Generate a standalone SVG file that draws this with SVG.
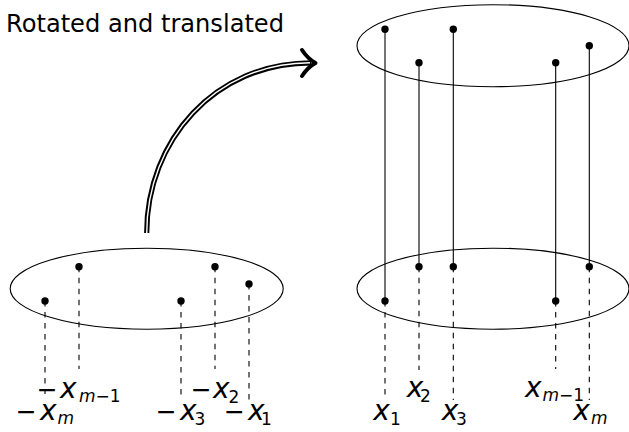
<svg xmlns="http://www.w3.org/2000/svg" width="629" height="432" viewBox="0 0 629 432">
  <style>
    .ell { fill: none; stroke: #000; stroke-width: 1.1; }
    .dot { fill: #000; }
    .solid { stroke: #000; stroke-width: 1.1; fill: none; }
    .dash { stroke: #000; stroke-width: 1.1; fill: none; stroke-dasharray: 5.5 5.5; }
    .title { font-family: "DejaVu Sans", sans-serif; font-size: 24.5px; fill: #000; }
    .math { font-family: "DejaVu Sans", sans-serif; font-size: 25px; fill: #000; }
    .it { font-style: italic; font-size: 28px; }
    .sub { font-size: 17px; }
    .subit { font-style: italic; font-size: 17px; }
  </style>
  <rect width="629" height="432" fill="#fff"/>

  <g id="title">
    <text class="title" x="6" y="32" textLength="278" lengthAdjust="spacingAndGlyphs">Rotated and translated</text>
  </g>

  <g id="connectors">
    <g id="arrow">
      <path d="M146.7,233 C146.7,140 215,63 311,62.8" fill="none" stroke="#000" stroke-width="5.2"/>
      <path d="M146.7,234 C146.7,140 215,63 310,62.8" fill="none" stroke="#fff" stroke-width="1.4"/>
      <path d="M302,50 Q308,59 315.5,63 Q308,67 302,76" fill="none" stroke="#000" stroke-width="4" stroke-linecap="round" stroke-linejoin="round"/>
    </g>
    <g id="solid-lines">
      <line class="solid" x1="385" y1="29.3" x2="385" y2="301"/>
      <line class="solid" x1="419" y1="62.7" x2="419" y2="266.7"/>
      <line class="solid" x1="453.3" y1="29.3" x2="453.3" y2="266.7"/>
      <line class="solid" x1="555.7" y1="62.7" x2="555.7" y2="301"/>
      <line class="solid" x1="589.3" y1="45.7" x2="589.3" y2="266.7"/>
    </g>
    <g id="dashed-left">
      <line class="dash" x1="45" y1="301" x2="45" y2="394"/>
      <line class="dash" x1="79" y1="266.7" x2="79" y2="369"/>
      <line class="dash" x1="181" y1="301" x2="181" y2="400"/>
      <line class="dash" x1="215" y1="266.7" x2="215" y2="369"/>
      <line class="dash" x1="249" y1="284" x2="249" y2="400"/>
    </g>
    <g id="dashed-right">
      <line class="dash" x1="385" y1="301" x2="385" y2="400"/>
      <line class="dash" x1="419" y1="266.7" x2="419" y2="370"/>
      <line class="dash" x1="453.3" y1="266.7" x2="453.3" y2="400"/>
      <line class="dash" x1="555.7" y1="301" x2="555.7" y2="369"/>
      <line class="dash" x1="589.3" y1="266.7" x2="589.3" y2="400"/>
    </g>
  </g>

  <g id="left-set">
    <ellipse class="ell" cx="146.7" cy="288.7" rx="136.5" ry="40.5"/>
    <circle class="dot" cx="45" cy="301" r="3.7"/>
    <circle class="dot" cx="79" cy="266.7" r="3.7"/>
    <circle class="dot" cx="181" cy="301" r="3.7"/>
    <circle class="dot" cx="215" cy="266.7" r="3.7"/>
    <circle class="dot" cx="249" cy="284" r="3.7"/>
  </g>

  <g id="right-bottom-set">
    <ellipse class="ell" cx="493" cy="288.7" rx="136" ry="40.5"/>
    <circle class="dot" cx="385" cy="301" r="3.7"/>
    <circle class="dot" cx="419" cy="266.7" r="3.7"/>
    <circle class="dot" cx="453.3" cy="266.7" r="3.7"/>
    <circle class="dot" cx="555.7" cy="301" r="3.7"/>
    <circle class="dot" cx="589.3" cy="266.7" r="3.7"/>
  </g>

  <g id="right-top-set">
    <ellipse class="ell" cx="493" cy="45.7" rx="136" ry="41"/>
    <circle class="dot" cx="385" cy="29.3" r="3.7"/>
    <circle class="dot" cx="419" cy="62.7" r="3.7"/>
    <circle class="dot" cx="453.3" cy="29.3" r="3.7"/>
    <circle class="dot" cx="555.7" cy="62.7" r="3.7"/>
    <circle class="dot" cx="589.3" cy="45.7" r="3.7"/>
  </g>

  <g id="left-labels">
    <text class="math" y="398"><tspan x="36.7">−</tspan><tspan class="it" x="60">x</tspan><tspan class="subit" x="79" dy="4">m</tspan><tspan class="sub">−1</tspan></text>
    <text class="math" y="398"><tspan x="190.7">−</tspan><tspan class="it" x="213">x</tspan><tspan class="sub" x="228.4" dy="5">2</tspan></text>
    <text class="math" y="420"><tspan x="15.7">−</tspan><tspan class="it" x="40">x</tspan><tspan class="subit" x="57.5" dy="4">m</tspan></text>
    <text class="math" y="420"><tspan x="155.7">−</tspan><tspan class="it" x="180">x</tspan><tspan class="sub" x="194.5" dy="5">3</tspan></text>
    <text class="math" y="420"><tspan x="224">−</tspan><tspan class="it" x="248">x</tspan><tspan class="sub" x="261" dy="5">1</tspan></text>
  </g>

  <g id="right-labels">
    <text class="math" y="420"><tspan class="it" x="373.3">x</tspan><tspan class="sub" x="390" dy="5">1</tspan></text>
    <text class="math" y="397"><tspan class="it" x="406.7">x</tspan><tspan class="sub" x="420" dy="5">2</tspan></text>
    <text class="math" y="420"><tspan class="it" x="441.7">x</tspan><tspan class="sub" x="456" dy="5">3</tspan></text>
    <text class="math" y="397"><tspan class="it" x="525">x</tspan><tspan class="subit" x="542.5" dy="4">m</tspan><tspan class="sub">−1</tspan></text>
    <text class="math" y="420"><tspan class="it" x="573.3">x</tspan><tspan class="subit" x="591" dy="4">m</tspan></text>
  </g>
</svg>
